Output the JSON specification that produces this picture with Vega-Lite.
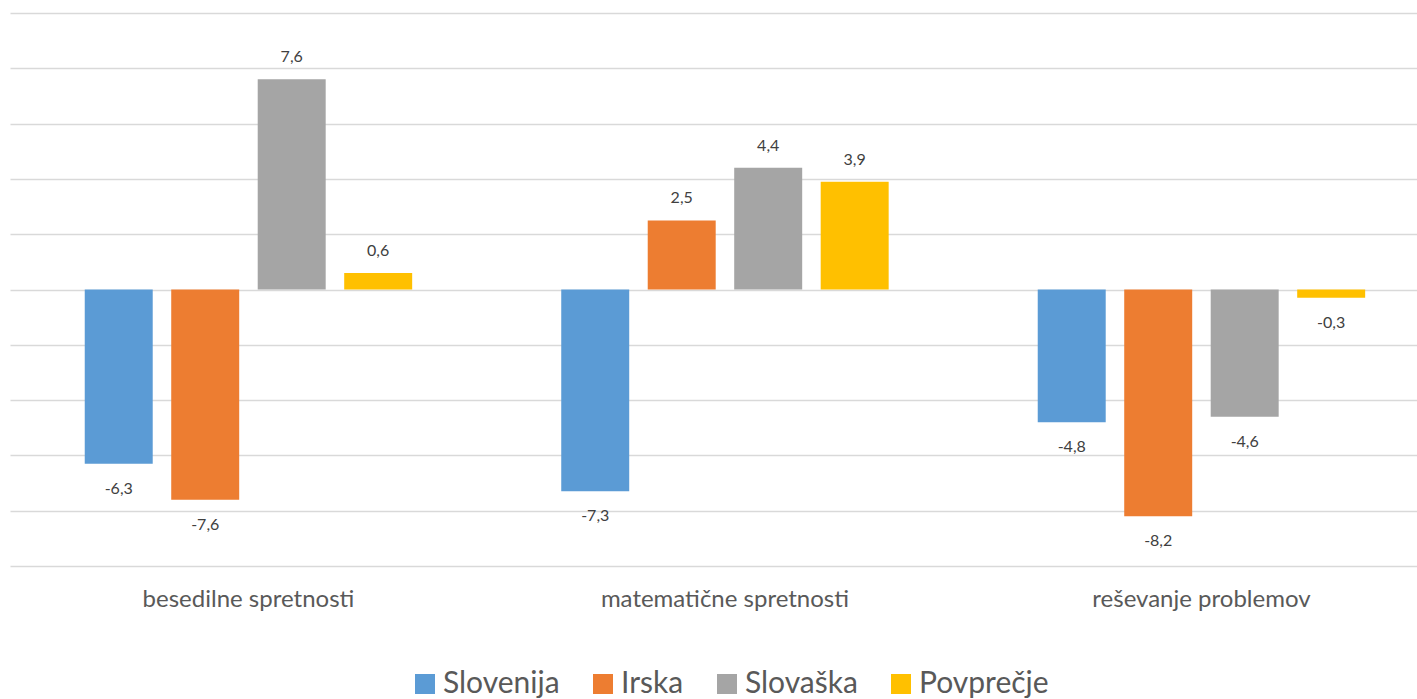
{
  "$schema": "https://vega.github.io/schema/vega-lite/v6.json",
  "width": 1407,
  "height": 553,
  "padding": {"left": 10, "top": 13, "right": 0, "bottom": 0},
  "background": "white",
  "config": {
    "font": "Lato",
    "view": {"stroke": null},
    "locale": {
      "number": {"decimal": ",", "thousands": ".", "grouping": [3], "currency": ["", " €"], "minus": "-"}
    }
  },
  "data": {
    "values": [
      {"kategorija": "besedilne spretnosti", "drzava": "Slovenija", "vrednost": -6.3},
      {"kategorija": "besedilne spretnosti", "drzava": "Irska", "vrednost": -7.6},
      {"kategorija": "besedilne spretnosti", "drzava": "Slovaška", "vrednost": 7.6},
      {"kategorija": "besedilne spretnosti", "drzava": "Povprečje", "vrednost": 0.6},
      {"kategorija": "matematične spretnosti", "drzava": "Slovenija", "vrednost": -7.3},
      {"kategorija": "matematične spretnosti", "drzava": "Irska", "vrednost": 2.5},
      {"kategorija": "matematične spretnosti", "drzava": "Slovaška", "vrednost": 4.4},
      {"kategorija": "matematične spretnosti", "drzava": "Povprečje", "vrednost": 3.9},
      {"kategorija": "reševanje problemov", "drzava": "Slovenija", "vrednost": -4.8},
      {"kategorija": "reševanje problemov", "drzava": "Irska", "vrednost": -8.2},
      {"kategorija": "reševanje problemov", "drzava": "Slovaška", "vrednost": -4.6},
      {"kategorija": "reševanje problemov", "drzava": "Povprečje", "vrednost": -0.3}
    ]
  },
  "encoding": {
    "x": {
      "field": "kategorija",
      "type": "nominal",
      "sort": null,
      "title": null,
      "scale": {"paddingInner": 0.274, "paddingOuter": 0.1134, "align": 0.606},
      "axis": {
        "domain": false,
        "ticks": false,
        "labelAngle": 0,
        "labelFontSize": 24,
        "labelLimit": 0,
        "labelColor": "#595959",
        "labelPadding": 21
      }
    },
    "xOffset": {
      "field": "drzava",
      "type": "nominal",
      "sort": ["Slovenija", "Irska", "Slovaška", "Povprečje"],
      "scale": {"paddingInner": 0.214, "paddingOuter": 0.107}
    },
    "y": {
      "field": "vrednost",
      "type": "quantitative",
      "title": null,
      "scale": {"domain": [-10, 10], "nice": false, "zero": false},
      "axis": {
        "values": [-10, -8, -6, -4, -2, 0, 2, 4, 6, 8, 10],
        "labels": false,
        "ticks": false,
        "domain": false,
        "grid": true,
        "gridColor": "#d9d9d9",
        "gridWidth": 1.5
      }
    }
  },
  "layer": [
    {
      "mark": {"type": "bar"},
      "encoding": {
        "color": {
          "field": "drzava",
          "type": "nominal",
          "sort": ["Slovenija", "Irska", "Slovaška", "Povprečje"],
          "title": null,
          "scale": {
            "domain": ["Slovenija", "Irska", "Slovaška", "Povprečje"],
            "range": ["#5B9BD5", "#ED7D31", "#A5A5A5", "#FFC000"]
          },
          "legend": {
            "orient": "none",
            "legendX": 400,
            "legendY": 656,
            "direction": "horizontal",
            "symbolType": "square",
            "symbolSize": 400,
            "symbolStrokeWidth": 0,
            "symbolOpacity": 1,
            "labelFontSize": 30,
            "labelColor": "#595959",
            "labelOffset": 3,
            "columnPadding": 28
          }
        }
      }
    },
    {
      "transform": [{"filter": "datum.vrednost >= 0"}],
      "mark": {"type": "text", "baseline": "middle", "dy": -22, "fontSize": 16, "color": "#404040"},
      "encoding": {
        "text": {"field": "vrednost", "type": "quantitative", "format": ".1f"}
      }
    },
    {
      "transform": [{"filter": "datum.vrednost < 0"}],
      "mark": {"type": "text", "baseline": "middle", "dy": 25, "fontSize": 16, "color": "#404040"},
      "encoding": {
        "text": {"field": "vrednost", "type": "quantitative", "format": ".1f"}
      }
    }
  ]
}
